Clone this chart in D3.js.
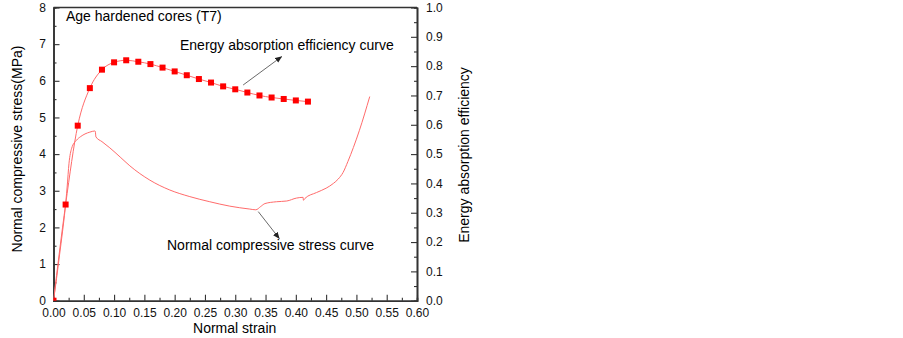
<!DOCTYPE html>
<html>
<head>
<meta charset="utf-8">
<script src="https://cdn.jsdelivr.net/npm/d3@7"></script>
<style>
  body { margin: 0; background: #fff; }
  svg { display: block; font-family: Arial, "Liberation Sans", sans-serif; }
</style>
</head>
<body>
<svg id="chart"></svg>
<script>
// Energy absorption efficiency points (right axis)
const effStrain = [0, 0.02, 0.04, 0.06, 0.08, 0.10, 0.12, 0.14, 0.16, 0.18, 0.20,
    0.22, 0.24, 0.26, 0.28, 0.30, 0.32, 0.34, 0.36, 0.38, 0.40, 0.42];
const effValues = [0, 0.328, 0.597, 0.725, 0.788, 0.813, 0.820, 0.815, 0.807, 0.795, 0.782,
    0.769, 0.756, 0.744, 0.731, 0.721, 0.710, 0.700, 0.693, 0.688, 0.683, 0.679];

// Normal compressive stress curve (strain, MPa)
const stressCurve = [
    [0, 0], [0.005, 0.6], [0.010, 1.25], [0.015, 1.9], [0.019, 2.47], [0.0225, 3.1],
    [0.0256, 3.75], [0.030, 4.16], [0.038, 4.38], [0.045, 4.48], [0.052, 4.55],
    [0.060, 4.60], [0.068, 4.63], [0.069, 4.62], [0.070, 4.47], [0.080, 4.34],
    [0.093, 4.17], [0.110, 3.92], [0.126, 3.68], [0.159, 3.29], [0.192, 3.02],
    [0.225, 2.84], [0.258, 2.70], [0.291, 2.58], [0.324, 2.50], [0.334, 2.48],
    [0.342, 2.57], [0.349, 2.65], [0.368, 2.70], [0.385, 2.72], [0.401, 2.80],
    [0.412, 2.82], [0.4125, 2.74], [0.415, 2.79], [0.434, 2.95], [0.450, 3.07],
    [0.462, 3.20], [0.470, 3.32], [0.478, 3.50], [0.486, 3.80], [0.495, 4.18],
    [0.505, 4.65], [0.522, 5.57]
];

const xTicks = d3.range(0, 0.601, 0.05);
const yLeftTicks = d3.range(0, 8.01, 1);
const yRightTicks = d3.range(0, 1.001, 0.1);

const W = 903, H = 338;
const margin = { top: 7.5, left: 53.5, right: W - 417, bottom: H - 300.7 };
const width = W - margin.left - margin.right;
const height = H - margin.top - margin.bottom;

const svg = d3.select("#chart").attr("width", W).attr("height", H);
const g = svg.append("g").attr("transform", `translate(${margin.left},${margin.top})`);

const x = d3.scaleLinear().domain([0, 0.6]).range([0, width]);
const yL = d3.scaleLinear().domain([0, 8]).range([height, 0]);
const yR = d3.scaleLinear().domain([0, 1]).range([height, 0]);

const axisColor = "#333";
const fmt2 = d3.format(".2f"), fmt1 = d3.format(".1f");

// minor ticks
g.append("g").attr("transform", `translate(0,${height})`)
    .call(d3.axisBottom(x).tickValues(d3.range(0.025, 0.6, 0.05)).tickSize(-3).tickFormat(""));
g.append("g")
    .call(d3.axisLeft(yL).tickValues(d3.range(0.5, 8, 1)).tickSize(-3).tickFormat(""));
g.append("g").attr("transform", `translate(${width},0)`)
    .call(d3.axisRight(yR).tickValues(d3.range(0.05, 1, 0.1)).tickSize(-3).tickFormat(""));

// major axes
g.append("g").attr("class", "x-axis").attr("transform", `translate(0,${height})`)
    .call(d3.axisBottom(x).tickValues(xTicks).tickSize(-6).tickPadding(7.5).tickFormat(fmt2).tickSizeOuter(0));
g.append("g").attr("class", "y-axis")
    .call(d3.axisLeft(yL).tickValues(yLeftTicks).tickSize(-6).tickPadding(7.5).tickFormat(d3.format("d")).tickSizeOuter(0));
g.append("g").attr("class", "y2-axis").attr("transform", `translate(${width},0)`)
    .call(d3.axisRight(yR).tickValues(yRightTicks).tickSize(-6).tickPadding(9).tickFormat(fmt1).tickSizeOuter(0));

// top border
g.append("line").attr("x1", 0).attr("x2", width).attr("y1", 0).attr("y2", 0)
    .attr("stroke", axisColor).attr("stroke-width", 1.3);

g.selectAll(".domain").attr("stroke", axisColor).attr("stroke-width", 1.6);
g.selectAll(".tick line").attr("stroke", axisColor).attr("stroke-width", 1.1);
g.selectAll(".tick text").attr("font-size", 12).attr("fill", "#111")
    .attr("font-family", "Arial, 'Liberation Sans', sans-serif");

// clip
svg.append("clipPath").attr("id", "plotClip").append("rect")
    .attr("width", width).attr("height", height);
const plot = g.append("g").attr("clip-path", "url(#plotClip)");

// stress curve
plot.append("path")
    .datum(stressCurve)
    .attr("fill", "none")
    .attr("stroke", "#ff6b6b")
    .attr("stroke-width", 1)
    .attr("d", d3.line().x(d => x(d[0])).y(d => yL(d[1])).curve(d3.curveMonotoneX));

// efficiency curve
const effData = effStrain.map((s, i) => ({ s, v: effValues[i] }));
plot.append("path")
    .datum(effData)
    .attr("fill", "none")
    .attr("stroke", "#ff6b6b")
    .attr("stroke-width", 1)
    .attr("d", d3.line().x(d => x(d.s)).y(d => yR(d.v)).curve(d3.curveMonotoneX));

const sq = 6;
plot.selectAll("rect.pt")
    .data(effData)
    .enter()
    .append("rect")
    .attr("class", "pt")
    .attr("x", d => x(d.s) - sq / 2)
    .attr("y", d => yR(d.v) - sq / 2)
    .attr("width", sq)
    .attr("height", sq)
    .attr("fill", "#ff0000");

// arrow marker
svg.append("defs").append("marker")
    .attr("id", "arrow")
    .attr("viewBox", "0 0 10 10")
    .attr("refX", 9).attr("refY", 5)
    .attr("markerWidth", 7).attr("markerHeight", 7)
    .attr("markerUnits", "userSpaceOnUse")
    .attr("orient", "auto")
    .append("path").attr("d", "M0,1 L10,5 L0,9 Z").attr("fill", "#222");

// annotations
const arrows = [
    { from: [0.313, 5.885], to: [0.3766, 6.66] },
    { from: [0.338, 2.43], to: [0.3726, 1.70] }
];
g.selectAll("line.arrow")
    .data(arrows)
    .enter()
    .append("line")
    .attr("class", "arrow")
    .attr("x1", d => x(d.from[0])).attr("y1", d => yL(d.from[1]))
    .attr("x2", d => x(d.to[0])).attr("y2", d => yL(d.to[1]))
    .attr("stroke", "#444").attr("stroke-width", 0.8)
    .attr("marker-end", "url(#arrow)");

const labelFont = "Arial, 'Liberation Sans', sans-serif";
svg.append("text").attr("x", 66).attr("y", 21).attr("font-size", 14).attr("font-family", labelFont)
    .text("Age hardened cores (T7)");
svg.append("text").attr("x", 180).attr("y", 49.5).attr("font-size", 14).attr("font-family", labelFont)
    .text("Energy absorption efficiency curve");
svg.append("text").attr("x", 167).attr("y", 250).attr("font-size", 14).attr("font-family", labelFont)
    .text("Normal compressive stress curve");

// axis titles
svg.append("text").attr("x", 234.7).attr("y", 332.5).attr("text-anchor", "middle")
    .attr("font-size", 14).attr("font-family", labelFont).text("Normal strain");
svg.append("text").attr("transform", "translate(21.5,149) rotate(-90)").attr("text-anchor", "middle")
    .attr("font-size", 14).attr("font-family", labelFont).text("Normal compressive stress(MPa)");
svg.append("text").attr("transform", "translate(468.5,155) rotate(-90)").attr("text-anchor", "middle")
    .attr("font-size", 14).attr("font-family", labelFont).text("Energy absorption efficiency");
</script>
</body>
</html>
